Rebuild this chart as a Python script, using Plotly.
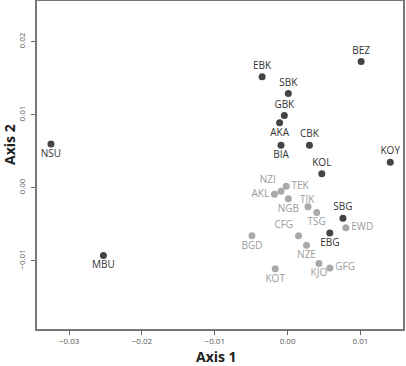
import plotly.graph_objects as go

# Dark (reference) populations
dark_labels = ["BEZ", "EBK", "SBK", "GBK", "AKA", "BIA", "CBK", "KOY", "KOL",
               "NSU", "MBU", "SBG", "EBG"]
dark_x = [0.0101, -0.0035, 0.0001, -0.00045, -0.0011, -0.0009, 0.0030, 0.0141, 0.0047,
          -0.0325, -0.0253, 0.0076, 0.0058]
dark_y = [0.0173, 0.0152, 0.0129, 0.0099, 0.0089, 0.0058, 0.0058, 0.0035, 0.0019,
          0.0060, -0.0093, -0.0042, -0.0062]
dark_pos = ["top center", "top center", "top center", "top center", "bottom center",
            "bottom center", "top center", "top center", "top center",
            "bottom center", "bottom center", "top center", "bottom center"]

# Light populations
light_labels = ["NZI", "TEK", "AKL", "NGB", "TIK", "TSG", "EWD", "CFG", "BGD",
                "NZE", "KJO", "GFG", "KOT"]
light_x = [-0.0009, -0.0002, -0.0018, 0.0001, 0.0028, 0.0040, 0.0080, 0.0015, -0.0049,
           0.0026, 0.0043, 0.0058, -0.0017]
light_y = [-0.0005, 0.0002, -0.0009, -0.0015, -0.0026, -0.0034, -0.0055, -0.0066, -0.0066,
           -0.0079, -0.0104, -0.0110, -0.0111]
# "tight" = label placed close above the point (drawn as an annotation)
light_pos = ["top left", "middle right", "middle left", "bottom center", "tight",
             "bottom center", "middle right", "top left", "bottom center",
             "bottom center", "bottom center", "middle right", "bottom center"]

x_ticks = [-0.03, -0.02, -0.01, 0.00, 0.01]
y_ticks = [-0.01, 0.00, 0.01, 0.02]

FONT = "Open Sans"
LIGHT_TXT = "#9c9c9c"

fig = go.Figure()
fig.add_trace(go.Scatter(
    x=light_x, y=light_y, mode="markers+text",
    text=[("" if p == "tight" else t) for t, p in zip(light_labels, light_pos)],
    textposition=[("top center" if p == "tight" else p) for p in light_pos],
    marker=dict(size=7, color="#a9a9a9"),
    textfont=dict(family=FONT, size=10, color=LIGHT_TXT),
    showlegend=False, cliponaxis=False,
))
fig.add_trace(go.Scatter(
    x=dark_x, y=dark_y, mode="markers+text", text=dark_labels,
    textposition=dark_pos,
    marker=dict(size=7, color="#444444"),
    textfont=dict(family=FONT, size=10, color="#333333"),
    showlegend=False, cliponaxis=False,
))

annotations = [
    dict(text="<b>Axis 1</b>", xref="paper", yref="paper", x=0.49, y=0,
         xanchor="center", yanchor="middle", yshift=-27, showarrow=False,
         font=dict(family=FONT, size=14, color="#222222")),
    dict(text="<b>Axis 2</b>", xref="paper", yref="paper", x=0, y=0.561,
         xanchor="center", yanchor="middle", xshift=-27, textangle=-90,
         showarrow=False, font=dict(family=FONT, size=14, color="#222222")),
]
for t, xv, yv, p in zip(light_labels, light_x, light_y, light_pos):
    if p == "tight":
        annotations.append(dict(text=t, x=xv, y=yv, xref="x", yref="y",
                                xanchor="center", yanchor="middle", yshift=8,
                                showarrow=False,
                                font=dict(family=FONT, size=10, color=LIGHT_TXT)))

axis_common = dict(
    showgrid=False, zeroline=False, showline=True, linecolor="#777777", linewidth=1.5,
    mirror=True, ticks="outside", ticklen=4, tickwidth=1.2, tickcolor="#666666",
    tickformat=".2f", tickfont=dict(family=FONT, size=8, color="#555555"),
    automargin=False,
)

fig.update_layout(
    width=406, height=366,
    margin=dict(l=37, r=3, t=1, b=37, autoexpand=False),
    paper_bgcolor="white", plot_bgcolor="white",
    xaxis=dict(range=[-0.03442, 0.01585], tickvals=x_ticks, **axis_common),
    yaxis=dict(range=[-0.01936, 0.02558], tickvals=y_ticks, tickangle=-90,
               ticklabelstandoff=3, **axis_common),
    annotations=annotations,
)

fig.write_html("out.html", config={"displayModeBar": False},
               post_script="document.body.style.margin='0';document.body.style.overflow='hidden';")
